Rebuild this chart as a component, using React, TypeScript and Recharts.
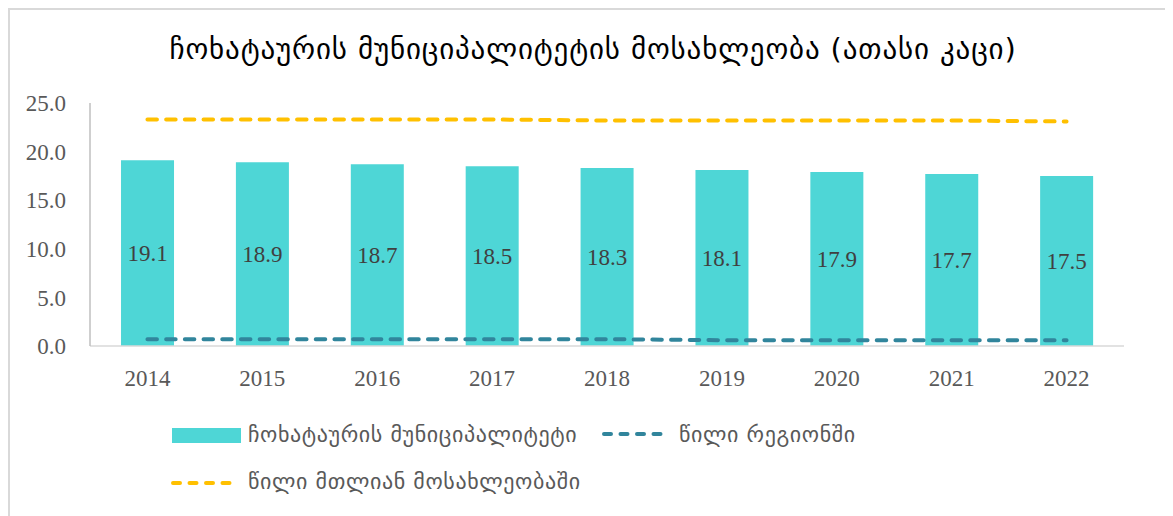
import React from "react";
import {
  ComposedChart,
  Bar,
  Line,
  XAxis,
  YAxis,
  LabelList,
} from "recharts";

const years = ["2014", "2015", "2016", "2017", "2018", "2019", "2020", "2021", "2022"];
const population = [19.1, 18.9, 18.7, 18.5, 18.3, 18.1, 17.9, 17.7, 17.5];
const shareRegion = [0.7, 0.7, 0.7, 0.7, 0.7, 0.6, 0.6, 0.6, 0.6];
const shareTotal = [23.3, 23.3, 23.3, 23.3, 23.2, 23.2, 23.2, 23.2, 23.1];
const yTicks = [0, 5, 10, 15, 20, 25];

const title = "ჩოხატაურის მუნიციპალიტეტის მოსახლეობა (ათასი კაცი)";
const barName = "ჩოხატაურის მუნიციპალიტეტი";
const regionName = "წილი რეგიონში";
const totalName = "წილი მთლიან მოსახლეობაში";

const BAR_COLOR = "#4ed6d6";
const REGION_COLOR = "#31859c";
const TOTAL_COLOR = "#ffc000";
const serif = "'Liberation Serif', 'Times New Roman', serif";
const georgian = "'DejaVu Sans', sans-serif";

const data = years.map((year, i) => ({
  year,
  population: population[i],
  region: shareRegion[i],
  total: shareTotal[i],
}));

// little dashed line used in the legend
const DashSwatch = ({ color }: { color: string }) => (
  <svg width={70} height={10} style={{ display: "block" }}>
    <line
      x1={3}
      y1={5}
      x2={68}
      y2={5}
      stroke={color}
      strokeWidth={4}
      strokeDasharray="7 9.5"
      strokeLinecap="round"
    />
  </svg>
);

const legendText: React.CSSProperties = {
  position: "absolute",
  fontFamily: georgian,
  fontSize: 22,
  letterSpacing: 0.6,
  color: "#595959",
  whiteSpace: "nowrap",
  lineHeight: "26px",
};

export default function App() {
  return (
    <div
      style={{
        position: "relative",
        width: 1200,
        height: 540,
        border: "2px solid #d9d9d9",
        boxSizing: "border-box",
        background: "#fff",
      }}
    >
      <style>{`html,body{overflow:hidden}`}</style>
      <div
        style={{
          position: "absolute",
          left: 133,
          top: 20,
          width: 900,
          textAlign: "center",
          fontFamily: georgian,
          fontSize: 29,
          letterSpacing: 0.85,
          lineHeight: "38px",
          color: "#000",
          whiteSpace: "nowrap",
        }}
      >
        {title}
      </div>

      <div style={{ position: "absolute", left: 0, top: 0 }}>
        <ComposedChart
          width={1190}
          height={520}
          data={data}
          margin={{ top: 93, right: 76, bottom: 154, left: 0 }}
          barCategoryGap="27%"
        >
          <XAxis
            dataKey="year"
            height={30}
            tickLine={false}
            tickMargin={18}
            axisLine={{ stroke: "#d9d9d9", strokeWidth: 1.5 }}
            tick={{ fill: "#595959", fontSize: 23, fontFamily: serif }}
          />
          <YAxis
            width={80}
            domain={[0, 25]}
            ticks={yTicks}
            tickFormatter={(v: number) => v.toFixed(1)}
            tickLine={false}
            tickMargin={18}
            axisLine={{ stroke: "#bfbfbf", strokeWidth: 1.5 }}
            tick={{ fill: "#595959", fontSize: 23, fontFamily: serif }}
          />
          <Bar dataKey="population" fill={BAR_COLOR} isAnimationActive={false}>
            <LabelList
              dataKey="population"
              position="center"
              formatter={(v: any) => Number(v).toFixed(1)}
              fill="#404040"
              fontSize={23}
              fontFamily={serif}
            />
          </Bar>
          <Line
            dataKey="region"
            stroke={REGION_COLOR}
            strokeWidth={4}
            strokeDasharray="9.5 9.2"
            strokeLinecap="round"
            dot={false}
            activeDot={false}
            isAnimationActive={false}
          />
          <Line
            dataKey="total"
            stroke={TOTAL_COLOR}
            strokeWidth={4}
            strokeDasharray="9.5 9.2"
            strokeLinecap="round"
            dot={false}
            activeDot={false}
            isAnimationActive={false}
          />
        </ComposedChart>
      </div>

      {/* legend, first row */}
      <div
        style={{
          position: "absolute",
          left: 162,
          top: 418,
          width: 69,
          height: 15,
          background: BAR_COLOR,
        }}
      />
      <div style={{ ...legendText, left: 238, top: 412 }}>{barName}</div>
      <div style={{ position: "absolute", left: 591, top: 419 }}>
        <DashSwatch color={REGION_COLOR} />
      </div>
      <div style={{ ...legendText, left: 669, top: 412 }}>{regionName}</div>

      {/* legend, second row */}
      <div style={{ position: "absolute", left: 160, top: 468 }}>
        <DashSwatch color={TOTAL_COLOR} />
      </div>
      <div style={{ ...legendText, left: 238, top: 459 }}>{totalName}</div>
    </div>
  );
}
